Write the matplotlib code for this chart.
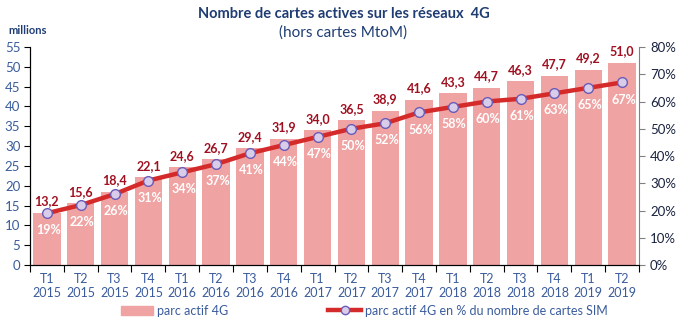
import matplotlib
matplotlib.use('Agg')
import matplotlib.pyplot as plt
from matplotlib.lines import Line2D
from matplotlib.patches import Patch
import numpy as np

plt.rcParams['font.family'] = ['Lato', 'DejaVu Sans']

# trimestres
quarters = ['T1', 'T2', 'T3', 'T4', 'T1', 'T2', 'T3', 'T4', 'T1', 'T2', 'T3', 'T4',
            'T1', 'T2', 'T3', 'T4', 'T1', 'T2']
years = ['2015'] * 4 + ['2016'] * 4 + ['2017'] * 4 + ['2018'] * 4 + ['2019'] * 2
# parc actif 4G (millions)
parc = [13.2, 15.6, 18.4, 22.1, 24.6, 26.7, 29.4, 31.9, 34.0, 36.5, 38.9, 41.6,
        43.3, 44.7, 46.3, 47.7, 49.2, 51.0]
# part du parc 4G dans les cartes SIM (%)
part = [19, 22, 26, 31, 34, 37, 41, 44, 47, 50, 52, 56, 58, 60, 61, 63, 65, 67]

bar_col = '#F0A3A3'
line_col = '#D42A2A'
navy = '#1F3D73'
tick_col = '#3A5C9C'
val_col = '#A01020'

fig = plt.figure(figsize=(6.87, 3.22), dpi=100)
ax = fig.add_axes([30/687, 1-265/322, 609/687, 218/322])
ax2 = ax.twinx()

x = np.arange(len(parc))
ax.bar(x, parc, width=0.81, color=bar_col, zorder=2)
for xi, v in zip(x, parc):
    ax.annotate(f'{v:.1f}'.replace('.', ','), (xi, v), xytext=(0, 4),
                textcoords='offset points', ha='center', va='bottom',
                fontsize=9, fontweight='bold', color=val_col)

ax2.plot(x, part, color=line_col, lw=3.2, marker='o', ms=7,
         mfc='#D8CCE8', mec='#6A5CB8', mew=1.0, zorder=3)
for xi, p in zip(x, part):
    ax2.annotate(f'{p}%', (xi, p), xytext=(1, -8),
                 textcoords='offset points', ha='center', va='top',
                 fontsize=9, fontweight='bold', color='white')

ax.set_xlim(-0.5, len(parc) - 0.5)
ax.set_ylim(0, 55)
ax2.set_ylim(0, 80)
ax.set_yticks(np.arange(0, 56, 5))
ax2.set_yticks(np.arange(0, 81, 10))
ax2.set_yticklabels([f'{v}%' for v in range(0, 81, 10)])

# graduations entre les catégories
ax.set_xticks(np.arange(-0.5, len(parc), 1))
ax.set_xticklabels([])
ax.set_xticks(x, minor=True)
ax.set_xticklabels([f'{q}\n{y}' for q, y in zip(quarters, years)], minor=True)
ax.tick_params(axis='x', which='major', length=5, color='black')
ax.tick_params(axis='x', which='minor', length=0, labelsize=9,
               labelcolor=tick_col, pad=6)
ax.tick_params(axis='y', length=4, labelsize=9.5, labelcolor=tick_col, pad=3)
ax2.tick_params(axis='y', length=4, labelsize=9.5, labelcolor='#1A2340',
                color='#808080', pad=4)

for s in ['top']:
    ax.spines[s].set_visible(False)
    ax2.spines[s].set_visible(False)
ax2.spines['right'].set_color('#808080')
ax.spines['right'].set_visible(False)

fig.text(0.5, 0.955, 'Nombre de cartes actives sur les réseaux  4G', ha='center',
         va='center', fontsize=10.5, fontweight='bold', color=navy)
fig.text(0.5, 0.9, '(hors cartes MtoM)', ha='center', va='center',
         fontsize=11, color=navy)
fig.text(8/687, 1-30/322, 'millions', ha='left', va='center',
         fontsize=8, fontweight='bold', color=navy)

handles = [Patch(color=bar_col, label='parc actif 4G'),
           Line2D([], [], color=line_col, lw=3.2, marker='o', ms=6,
                  mfc='#D8CCE8', mec='#6A5CB8',
                  label='parc actif 4G en % du nombre de cartes SIM')]
fig.legend(handles=handles, loc='center', bbox_to_anchor=(0.53, 0.035), ncol=2,
           frameon=False, fontsize=9, labelcolor=tick_col, columnspacing=8,
           handlelength=2.6, handletextpad=0.3)

fig.savefig('out.png', dpi=100)
